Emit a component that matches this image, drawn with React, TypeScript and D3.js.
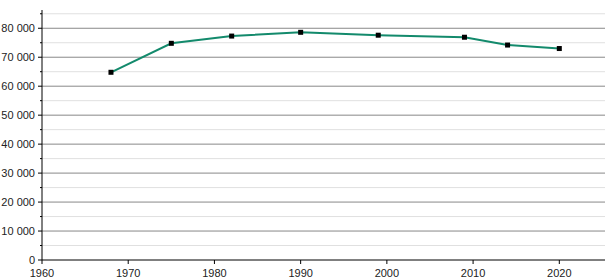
import React from "react";
import * as d3 from "d3";

const years = [1968, 1975, 1982, 1990, 1999, 2009, 2014, 2020];
const population = [64800, 74800, 77300, 78600, 77600, 76900, 74200, 73000];
const xTicks = [1960, 1970, 1980, 1990, 2000, 2010, 2020];
const yTicks = [0, 10000, 20000, 30000, 40000, 50000, 60000, 70000, 80000];
const yMinorTicks = [5000, 15000, 25000, 35000, 45000, 55000, 65000, 75000, 85000];

const W = 615;
const H = 280;
const left = 42;
const right = 605;
const top = 10;
const bottom = 260;

export default function App() {
  const x = d3.scaleLinear().domain([1960, 2025.3]).range([left, right]);
  const y = d3.scaleLinear().domain([0, 86300]).range([bottom, top]);
  const fmt = (v: number) => d3.format(",")(v).replace(/,/g, " ");
  const line = d3
    .line<number>()
    .x((_, i) => x(years[i]))
    .y((d) => y(d));
  const font = "'Liberation Sans', Arial, sans-serif";
  return (
    <svg
      width={W}
      height={H}
      style={{ position: "absolute", left: 0, top: 0 }}
      fontFamily={font}
      fontSize={11}
    >
      <rect width={W} height={H} fill="#fff" />
      {yMinorTicks.map((t) => (
        <g key={"m" + t}>
          <line x1={left} x2={right} y1={y(t)} y2={y(t)} stroke="#e0e0e0" strokeWidth={1} />
          <line x1={left - 2} x2={left} y1={y(t)} y2={y(t)} stroke="#000" strokeWidth={1} />
        </g>
      ))}
      {yTicks.map((t) => (
        <g key={"M" + t}>
          {t > 0 && (
            <line x1={left} x2={right} y1={y(t)} y2={y(t)} stroke="#888" strokeWidth={1} />
          )}
          <line x1={left - 4} x2={left} y1={y(t)} y2={y(t)} stroke="#000" strokeWidth={1} />
          <text x={left - 7} y={y(t)} dy="0.35em" textAnchor="end" fill="#222">
            {fmt(t)}
          </text>
        </g>
      ))}
      <line x1={left} x2={left} y1={top} y2={bottom} stroke="#000" strokeWidth={1} />
      <line x1={left} x2={right} y1={bottom} y2={bottom} stroke="#000" strokeWidth={1} />
      {xTicks.map((t) => (
        <g key={"x" + t}>
          <line x1={x(t)} x2={x(t)} y1={bottom} y2={bottom + 4} stroke="#000" strokeWidth={1} />
          <text x={x(t)} y={bottom + 17} textAnchor="middle" fill="#222">
            {t}
          </text>
        </g>
      ))}
      <path d={line(population) || ""} fill="none" stroke="#138a6c" strokeWidth={2} />
      {population.map((v, i) => (
        <rect
          key={"p" + i}
          x={x(years[i]) - 2.5}
          y={y(v) - 2.5}
          width={5}
          height={5}
          fill="#000"
        />
      ))}
    </svg>
  );
}
